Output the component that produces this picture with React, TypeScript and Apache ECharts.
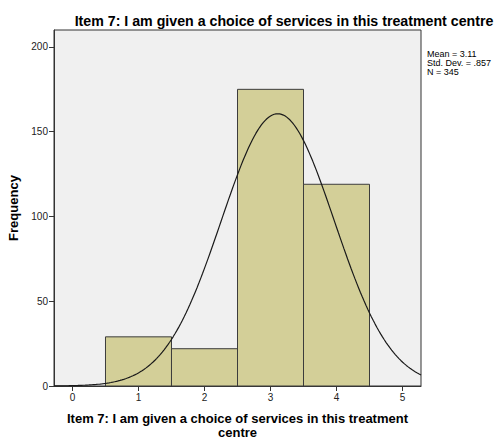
import React, { useEffect, useRef } from "react";
import * as echarts from "echarts";

const titleText = "Item 7: I am given a choice of services in this treatment centre";
const xAxisTitle = "Item 7: I am given a choice of services in this treatment\ncentre";
const yAxisTitle = "Frequency";
const binCenters = [1, 2, 3, 4];
const frequencies = [29, 22, 175, 119];
const xTicks = [0, 1, 2, 3, 4, 5];
const yTicks = [0, 50, 100, 150, 200];
const statMean = 3.11;
const statSd = 0.857;
const statN = 345;
const statLines = ["Mean = 3.11", "Std. Dev. = .857", "N = 345"];

const X_MIN = -0.28;
const X_MAX = 5.28;

function normalCurve(): number[][] {
  const pts: number[][] = [];
  const steps = 200;
  for (let i = 0; i <= steps; i++) {
    const x = X_MIN + ((X_MAX - X_MIN) * i) / steps;
    const z = (x - statMean) / statSd;
    const y = (statN * 1) / (statSd * Math.sqrt(2 * Math.PI)) * Math.exp(-0.5 * z * z);
    pts.push([x, y]);
  }
  return pts;
}

export default function App() {
  const ref = useRef<HTMLDivElement>(null);
  useEffect(() => {
    if (!ref.current) return;
    const chart = echarts.init(ref.current, undefined, { renderer: "svg" });
    const font = "'Liberation Sans', Arial, sans-serif";
    chart.setOption({
      animation: false,
      backgroundColor: "#ffffff",
      textStyle: { fontFamily: font },
      title: {
        text: titleText,
        left: 279,
        textAlign: "center",
        top: 9,
        textStyle: { fontFamily: font, fontSize: 14.2, fontWeight: "bold", color: "#000" },
      },
      grid: {
        left: 54,
        right: 78,
        top: 30,
        bottom: 55,
        show: true,
        outerBoundsMode: "none",
        containLabel: false,
        backgroundColor: "#f0f0f0",
        borderColor: "#333333",
        borderWidth: 1,
      },
      xAxis: {
        type: "value",
        min: X_MIN,
        max: X_MAX,
        name: xAxisTitle,
        nameLocation: "middle",
        nameGap: 26,
        nameTextStyle: { fontFamily: font, fontSize: 13, fontWeight: "bold", color: "#000", lineHeight: 13.5 },
        axisLine: { show: true, onZero: false, lineStyle: { color: "#333", width: 1 } },
        axisTick: { show: true, customValues: xTicks, length: 5, lineStyle: { color: "#333" } },
        axisLabel: { customValues: xTicks, fontSize: 10, color: "#222", margin: 6 },
        splitLine: { show: false },
      },
      yAxis: {
        type: "value",
        min: 0,
        max: 210,
        name: yAxisTitle,
        nameLocation: "middle",
        nameGap: 28,
        nameTextStyle: { fontFamily: font, fontSize: 13, fontWeight: "bold", color: "#000" },
        axisLine: { show: true, onZero: false, lineStyle: { color: "#333", width: 1 } },
        axisTick: { show: true, customValues: yTicks, length: 5, lineStyle: { color: "#333" } },
        axisLabel: { customValues: yTicks, fontSize: 10, color: "#222", margin: 6 },
        splitLine: { show: false },
      },
      series: [
        {
          type: "custom",
          data: binCenters.map((c, i) => [c, frequencies[i]]),
          renderItem: (params: any, api: any) => {
            const c = api.value(0);
            const v = api.value(1);
            const p1 = api.coord([c - 0.5, v]);
            const p2 = api.coord([c + 0.5, 0]);
            return {
              type: "rect",
              shape: { x: p1[0], y: p1[1], width: p2[0] - p1[0], height: p2[1] - p1[1] },
              style: { fill: "#d3cf98", stroke: "#3c3c3c", lineWidth: 1 },
            };
          },
          z: 2,
        },
        {
          type: "line",
          data: normalCurve(),
          showSymbol: false,
          smooth: false,
          lineStyle: { color: "#1a1a1a", width: 1.2 },
          clip: true,
          z: 3,
        },
      ],
      graphic: statLines.map((t, i) => ({
        type: "text",
        left: 427,
        top: 49 + i * 9.3,
        style: { text: t, fontFamily: font, fontSize: 9, fill: "#000" },
      })),
    });
    return () => chart.dispose();
  }, []);
  return <div ref={ref} style={{ width: 499, height: 441, position: "absolute", left: 0, top: 0 }} />;
}
